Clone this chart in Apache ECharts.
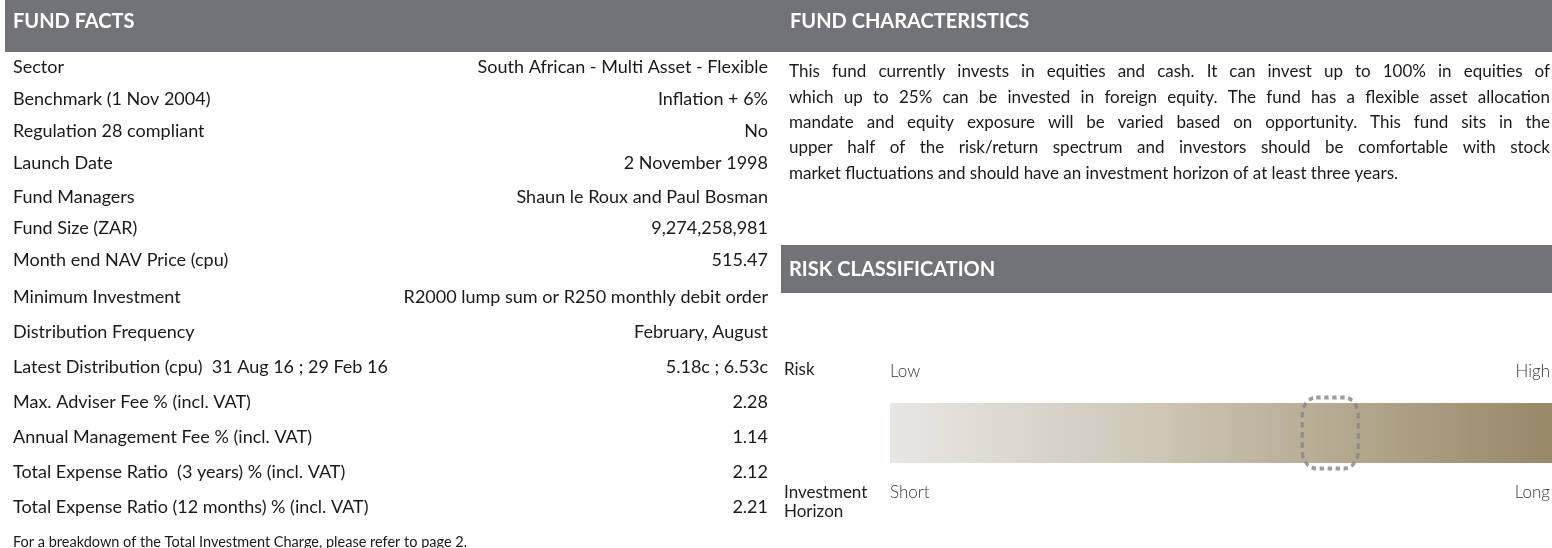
<!DOCTYPE html>
<html>
<head>
<meta charset="utf-8">
<script src="https://cdn.jsdelivr.net/npm/echarts@6/dist/echarts.min.js"></script>
<style>
  html, body { margin: 0; padding: 0; background: #fff; }
  #main { width: 1552px; height: 548px; }
</style>
</head>
<body>
<div id="main"></div>
<script>
// fund facts table
var factLabels = [
  'Sector', 'Benchmark (1 Nov 2004)', 'Regulation 28 compliant', 'Launch Date',
  'Fund Managers', 'Fund Size (ZAR)', 'Month end NAV Price (cpu)', 'Minimum Investment',
  'Distribution Frequency', 'Latest Distribution (cpu)  31 Aug 16 ; 29 Feb 16',
  'Max. Adviser Fee % (incl. VAT)', 'Annual Management Fee % (incl. VAT)',
  'Total Expense Ratio  (3 years) % (incl. VAT)', 'Total Expense Ratio (12 months) % (incl. VAT)'
]
var factValues = [
  'South African - Multi Asset - Flexible', 'Inflation + 6%', 'No', '2 November 1998',
  'Shaun le Roux and Paul Bosman', '9,274,258,981', '515.47',
  'R2000 lump sum or R250 monthly debit order', 'February, August', '5.18c ; 6.53c',
  '2.28', '1.14', '2.12', '2.21'
]
var footNote = 'For a breakdown of the Total Investment Charge, please refer to page 2.'

// fund characteristics paragraph, one entry per printed line
var characteristicsLines = [
  'This fund currently invests in equities and cash. It can invest up to 100% in equities of',
  'which up to 25% can be invested in foreign equity. The fund has a flexible asset allocation',
  'mandate and equity exposure will be varied based on opportunity. This fund sits in the',
  'upper half of the risk/return spectrum and investors should be comfortable with stock',
  'market fluctuations and should have an investment horizon of at least three years.'
]

// risk scale (0 = low, 100 = high)
var riskScale = ['Low', 'High']
var horizonScale = ['Short', 'Long']
var riskMax = [100]
var riskLevel = [66.5]

// layout
var rowY = [67, 99, 131, 163, 197, 228, 260, 297, 332, 367, 402, 437, 472, 507]
var FONT = 'Lato, "Open Sans", sans-serif'
var TXT = '#1a1a1a'
var HEAD = '#727379'

var elements = []

// header bands
elements.push({ type: 'rect', shape: { x: 5, y: 0, width: 1547, height: 52 }, style: { fill: HEAD } })
elements.push({ type: 'rect', shape: { x: 781, y: 245, width: 771, height: 48 }, style: { fill: HEAD } })
function header (txt, x, y) {
  elements.push({
    type: 'text', x: x, y: y,
    style: { text: txt, fill: '#fff', font: 'bold 20px ' + FONT, textVerticalAlign: 'middle' }
  })
}
header('FUND FACTS', 13, 22)
header('FUND CHARACTERISTICS', 790, 22)
header('RISK CLASSIFICATION', 789, 270)

// fact rows
factLabels.forEach(function (lab, i) {
  elements.push({
    type: 'text', x: 13, y: rowY[i],
    style: { text: lab, fill: TXT, font: '18px ' + FONT, textVerticalAlign: 'middle' }
  })
  elements.push({
    type: 'text', x: 768, y: rowY[i],
    style: { text: factValues[i], fill: TXT, font: '18px ' + FONT, textAlign: 'right', textVerticalAlign: 'middle' }
  })
})
elements.push({
  type: 'text', x: 13, y: 542,
  style: { text: footNote, fill: TXT, font: '14.5px ' + FONT, textVerticalAlign: 'middle' }
})

// justified paragraph
var paraFont = '17px ' + FONT
var ctx = document.createElement('canvas').getContext('2d')
ctx.font = paraFont
var paraLeft = 789
var paraWidth = 761
characteristicsLines.forEach(function (line, li) {
  var y = 72 + li * 25.3
  var words = line.split(' ')
  var last = li === characteristicsLines.length - 1
  var widths = words.map(function (w) { return ctx.measureText(w).width })
  var total = widths.reduce(function (a, b) { return a + b }, 0)
  var gap = last ? ctx.measureText(' ').width : (paraWidth - total) / (words.length - 1)
  var x = paraLeft
  words.forEach(function (w, k) {
    elements.push({
      type: 'text', x: x, y: y,
      style: { text: w, fill: TXT, font: paraFont, textVerticalAlign: 'middle' }
    })
    x += widths[k] + gap
  })
})

// risk labels
function label (txt, x, y, align, light) {
  elements.push({
    type: 'text', x: x, y: y,
    style: {
      text: txt,
      fill: light ? '#3a3a3a' : '#1e1e1e',
      font: (light ? '300' : 'normal') + ' 17px ' + FONT,
      textAlign: align || 'left',
      textVerticalAlign: 'middle'
    }
  })
}
label('Risk', 784, 370)
label(riskScale[0], 890, 372, 'left', true)
label(riskScale[1], 1550, 372, 'right', true)
label('Investment', 784, 493)
label('Horizon', 784, 512)
label(horizonScale[0], 890, 493, 'left', true)
label(horizonScale[1], 1550, 493, 'right', true)

var myChart = echarts.init(document.getElementById('main'))
var option = {
  animation: false,
  grid: { left: 890, right: 0, top: 403, height: 60 },
  xAxis: { type: 'value', min: 0, max: riskMax[0], show: false },
  yAxis: { type: 'category', data: ['Risk'], show: false },
  series: [
    {
      type: 'bar',
      data: riskMax,
      barWidth: 60,
      silent: true,
      itemStyle: {
        color: new echarts.graphic.LinearGradient(0, 0, 1, 0, [
          { offset: 0, color: '#e8e7e3' },
          { offset: 0.4, color: '#cec7b7' },
          { offset: 0.66, color: '#b6ab92' },
          { offset: 1, color: '#978868' }
        ])
      }
    },
    {
      type: 'scatter',
      data: riskLevel.map(function (v) { return [v, 'Risk'] }),
      symbol: 'roundRect',
      symbolSize: [56, 71],
      silent: true,
      z: 5,
      itemStyle: {
        color: 'rgba(0,0,0,0)',
        borderColor: '#858585',
        borderWidth: 3.5,
        borderType: [5, 4]
      }
    }
  ],
  graphic: { elements: elements }
}
myChart.setOption(option)
</script>
</body>
</html>
